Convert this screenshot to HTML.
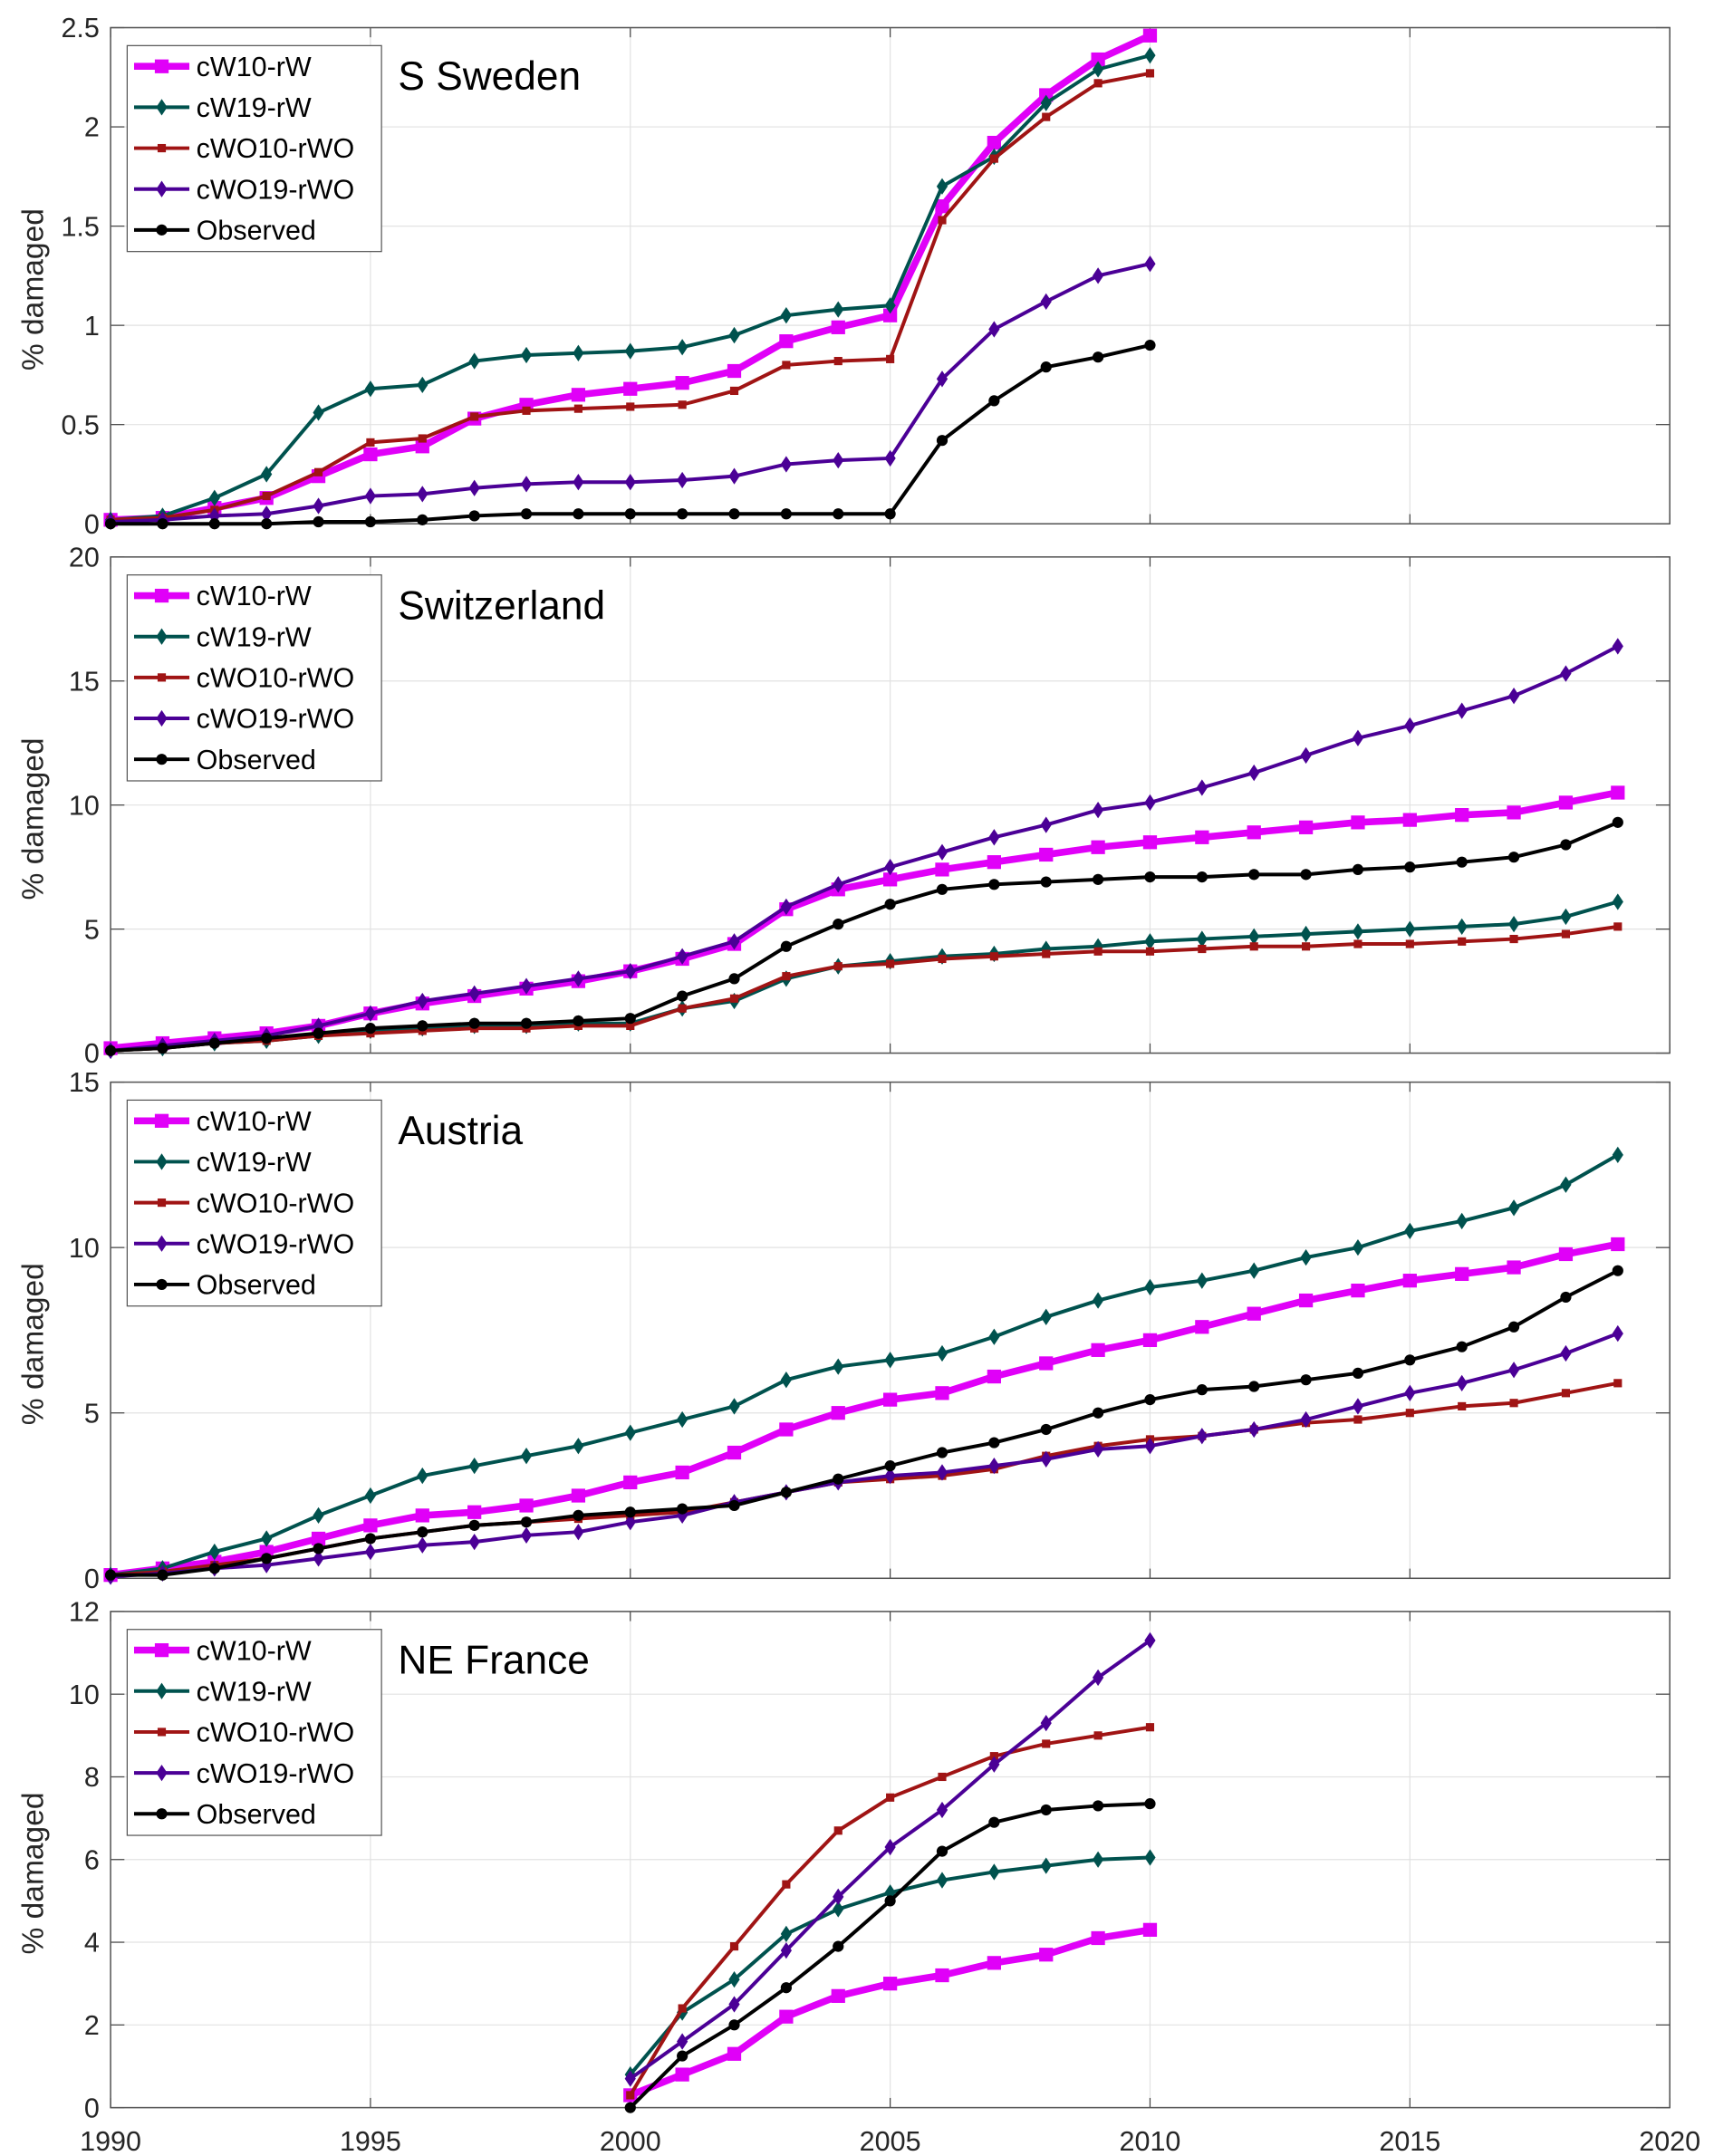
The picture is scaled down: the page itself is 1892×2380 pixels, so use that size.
<!DOCTYPE html>
<html><head><meta charset="utf-8"><style>
html,body{margin:0;padding:0;background:#fff;}
svg{display:block;}
text{font-family:"Liberation Sans",sans-serif;}
</style></head>
<body>
<svg id="chart" width="1892" height="2380" viewBox="0 0 1240 1560" preserveAspectRatio="none" xmlns="http://www.w3.org/2000/svg"></svg>
<script>
// ---- data ----
const seriesNames = ["cW10-rW","cW19-rW","cWO10-rWO","cWO19-rWO","Observed"];
const panelTitles = ["S Sweden","Switzerland","Austria","NE France"];
const panelYMax = [2.5, 20, 15, 12];
const panelYTicks = [[0,0.5,1,1.5,2,2.5],[0,5,10,15,20],[0,5,10,15],[0,2,4,6,8,10,12]];
const panelYTickLabels = [["0","0.5","1","1.5","2","2.5"],["0","5","10","15","20"],["0","5","10","15"],["0","2","4","6","8","10","12"]];
const panelStartYear = [1990, 1990, 1990, 2000];
const xTicks = [1990,1995,2000,2005,2010,2015,2020];

const swedenW10 = [0.02,0.03,0.08,0.13,0.24,0.35,0.39,0.53,0.6,0.65,0.68,0.71,0.77,0.92,0.99,1.05,1.6,1.92,2.16,2.34,2.46];
const swedenW19 = [0.02,0.04,0.13,0.25,0.56,0.68,0.7,0.82,0.85,0.86,0.87,0.89,0.95,1.05,1.08,1.1,1.7,1.85,2.12,2.29,2.36];
const swedenWO10 = [0.02,0.03,0.07,0.14,0.26,0.41,0.43,0.54,0.57,0.58,0.59,0.6,0.67,0.8,0.82,0.83,1.53,1.84,2.05,2.22,2.27];
const swedenWO19 = [0.01,0.02,0.04,0.05,0.09,0.14,0.15,0.18,0.2,0.21,0.21,0.22,0.24,0.3,0.32,0.33,0.73,0.98,1.12,1.25,1.31];
const swedenObs = [0,0,0,0,0.01,0.01,0.02,0.04,0.05,0.05,0.05,0.05,0.05,0.05,0.05,0.05,0.42,0.62,0.79,0.84,0.9];

const swissW10 = [0.2,0.4,0.6,0.8,1.1,1.6,2.0,2.3,2.6,2.9,3.3,3.8,4.4,5.8,6.6,7.0,7.4,7.7,8.0,8.3,8.5,8.7,8.9,9.1,9.3,9.4,9.6,9.7,10.1,10.5];
const swissW19 = [0.1,0.2,0.4,0.5,0.7,0.9,1.0,1.1,1.1,1.2,1.2,1.8,2.1,3.0,3.5,3.7,3.9,4.0,4.2,4.3,4.5,4.6,4.7,4.8,4.9,5.0,5.1,5.2,5.5,6.1];
const swissWO10 = [0.1,0.2,0.4,0.5,0.7,0.8,0.9,1.0,1.0,1.1,1.1,1.8,2.2,3.1,3.5,3.6,3.8,3.9,4.0,4.1,4.1,4.2,4.3,4.3,4.4,4.4,4.5,4.6,4.8,5.1];
const swissWO19 = [0.1,0.3,0.5,0.7,1.1,1.6,2.1,2.4,2.7,3.0,3.3,3.9,4.5,5.9,6.8,7.5,8.1,8.7,9.2,9.8,10.1,10.7,11.3,12.0,12.7,13.2,13.8,14.4,15.3,16.4];
const swissObs = [0.1,0.2,0.4,0.6,0.8,1.0,1.1,1.2,1.2,1.3,1.4,2.3,3.0,4.3,5.2,6.0,6.6,6.8,6.9,7.0,7.1,7.1,7.2,7.2,7.4,7.5,7.7,7.9,8.4,9.3];

const austriaW10 = [0.1,0.3,0.5,0.8,1.2,1.6,1.9,2.0,2.2,2.5,2.9,3.2,3.8,4.5,5.0,5.4,5.6,6.1,6.5,6.9,7.2,7.6,8.0,8.4,8.7,9.0,9.2,9.4,9.8,10.1];
const austriaW19 = [0.1,0.3,0.8,1.2,1.9,2.5,3.1,3.4,3.7,4.0,4.4,4.8,5.2,6.0,6.4,6.6,6.8,7.3,7.9,8.4,8.8,9.0,9.3,9.7,10.0,10.5,10.8,11.2,11.9,12.8];
const austriaWO10 = [0.1,0.2,0.4,0.6,0.9,1.2,1.4,1.6,1.7,1.8,1.9,2.0,2.3,2.6,2.9,3.0,3.1,3.3,3.7,4.0,4.2,4.3,4.5,4.7,4.8,5.0,5.2,5.3,5.6,5.9];
const austriaWO19 = [0.05,0.15,0.3,0.4,0.6,0.8,1.0,1.1,1.3,1.4,1.7,1.9,2.3,2.6,2.9,3.1,3.2,3.4,3.6,3.9,4.0,4.3,4.5,4.8,5.2,5.6,5.9,6.3,6.8,7.4];
const austriaObs = [0.1,0.1,0.3,0.6,0.9,1.2,1.4,1.6,1.7,1.9,2.0,2.1,2.2,2.6,3.0,3.4,3.8,4.1,4.5,5.0,5.4,5.7,5.8,6.0,6.2,6.6,7.0,7.6,8.5,9.3];

const franceW10 = [0.3,0.8,1.3,2.2,2.7,3.0,3.2,3.5,3.7,4.1,4.3];
const franceW19 = [0.8,2.3,3.1,4.2,4.8,5.2,5.5,5.7,5.85,6.0,6.05];
const franceWO10 = [0.3,2.4,3.9,5.4,6.7,7.5,8.0,8.5,8.8,9.0,9.2];
const franceWO19 = [0.7,1.6,2.5,3.8,5.1,6.3,7.2,8.3,9.3,10.4,11.3];
const franceObs = [0,1.25,2.0,2.9,3.9,5.0,6.2,6.9,7.2,7.3,7.35];

const panelData = [
  [swedenW10,swedenW19,swedenWO10,swedenWO19,swedenObs],
  [swissW10,swissW19,swissWO10,swissWO19,swissObs],
  [austriaW10,austriaW19,austriaWO10,austriaWO19,austriaObs],
  [franceW10,franceW19,franceWO10,franceWO19,franceObs]
];

// ---- styles / layout ----
const colors = ["#e000f8","#00524e","#a01414","#4b0096","#000000"];
const widths = [5,2.6,2.6,2.6,2.6];
const markers = ["bigsquare","diamond","square","diamond","circle"];
const panelTops = [20,403,783,1166];
const panelH = 359;
const X0 = 80, X1 = 1208;
const NS = "http://www.w3.org/2000/svg";
const svg = document.getElementById('chart');

function el(tag, attrs, parent){
  const e = document.createElementNS(NS, tag);
  for (const k in attrs) e.setAttribute(k, attrs[k]);
  (parent||svg).appendChild(e);
  return e;
}
function xScale(year){ return X0 + (year-1990)/30*(X1-X0); }
function yScale(p, v){ return panelTops[p] + panelH - v/panelYMax[p]*panelH; }

function marker(g, type, x, y, c){
  let m;
  if (type==="bigsquare") m = el('rect',{x:x-5,y:y-5,width:10,height:10,fill:c},g);
  else if (type==="square") m = el('rect',{x:x-3,y:y-3,width:6,height:6,fill:c},g);
  else if (type==="diamond") m = el('polygon',{points:`${x},${y-6} ${x+4},${y} ${x},${y+6} ${x-4},${y}`,fill:c},g);
  else m = el('circle',{cx:x,cy:y,r:4,fill:c},g);
  
  
}

for (let p=0;p<4;p++){
  const top = panelTops[p], bot = top+panelH;
  const g = el('g',{});
  
  
  // grid
  xTicks.forEach(t=>{
    const x = xScale(t);
    const l = el('line',{x1:x,y1:top,x2:x,y2:bot,stroke:"#e2e2e2","stroke-width":0.8},g);
    
    
    el('line',{x1:x,y1:bot,x2:x,y2:bot-7,stroke:"#444","stroke-width":0.8},g);
    el('line',{x1:x,y1:top,x2:x,y2:top+7,stroke:"#444","stroke-width":0.8},g);
  });
  panelYTicks[p].forEach((t,i)=>{
    const y = yScale(p,t);
    const l = el('line',{x1:X0,y1:y,x2:X1,y2:y,stroke:"#e2e2e2","stroke-width":0.8},g);
    
    
    el('line',{x1:X0,y1:y,x2:X0+10,y2:y,stroke:"#444","stroke-width":0.8},g);
    el('line',{x1:X1,y1:y,x2:X1-10,y2:y,stroke:"#444","stroke-width":0.8},g);
    const tx = el('text',{x:X0-8,y:y+7,"text-anchor":"end","font-size":20,fill:"#262626"},g);
    tx.textContent = panelYTickLabels[p][i];
    
    
  });
  // frame
  const fr = el('rect',{x:X0,y:top,width:X1-X0,height:panelH,fill:"none",stroke:"#555","stroke-width":1},g);
  
  
  // y label
  const yl = el('text',{x:0,y:0,"text-anchor":"middle","font-size":22,fill:"#262626",transform:`translate(31,${top+panelH/2+10}) rotate(-90)`},g);
  yl.textContent = "% damaged";
  
  
  // series
  for (let s=0;s<5;s++){
    const vals = panelData[p][s];
    const sg = el('g',{},g);
    
    
    const pts = vals.map((v,i)=>xScale(panelStartYear[p]+i)+","+yScale(p,v)).join(" ");
    el('polyline',{points:pts,fill:"none",stroke:colors[s],"stroke-width":widths[s],"stroke-linejoin":"round"},sg);
    vals.forEach((v,i)=>marker(sg,markers[s],xScale(panelStartYear[p]+i),yScale(p,v),colors[s]));
  }
  // legend
  const lg = el('g',{},g);
  
  
  el('rect',{x:92,y:top+13,width:184,height:149,fill:"#fff",stroke:"#555","stroke-width":0.8},lg);
  for (let s=0;s<5;s++){
    const y = top+28+s*29.6;
    const eg = el('g',{},lg);
    
    
    el('line',{x1:97,y1:y,x2:137,y2:y,stroke:colors[s],"stroke-width":widths[s]},eg);
    marker(eg,markers[s],117,y,colors[s]);
    const t = el('text',{x:142,y:y+7,"font-size":20,fill:"#000"},eg);
    t.textContent = seriesNames[s];
  }
  // title
  const tt = el('text',{x:288,y:top+45,"font-size":29,fill:"#000"},g);
  tt.textContent = panelTitles[p];
  
  
}
// x tick labels on bottom panel
xTicks.forEach(t=>{
  const tx = el('text',{x:xScale(t),y:1556,"text-anchor":"middle","font-size":20,fill:"#262626"});
  tx.textContent = String(t);
  
  
});
</script>
</body></html>
